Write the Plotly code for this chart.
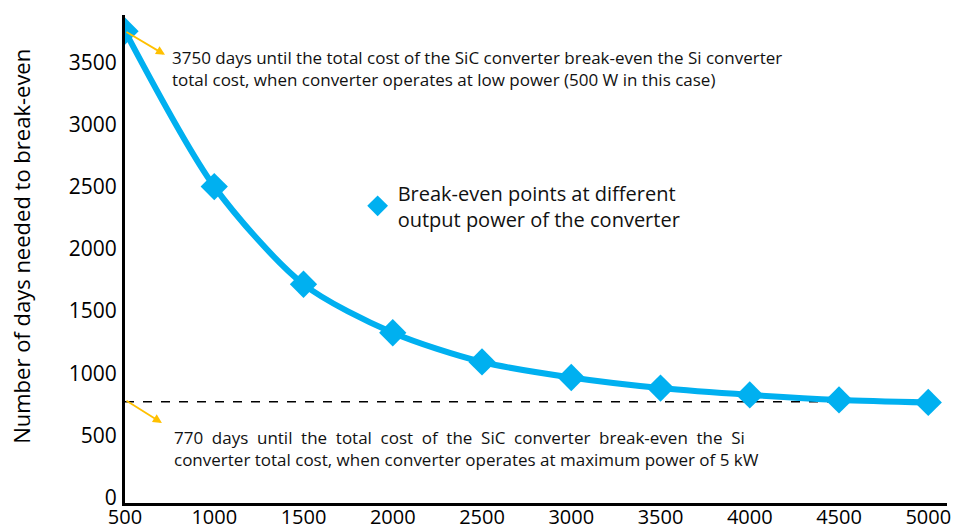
import plotly.graph_objects as go

power_w = [500, 1000, 1500, 2000, 2500, 3000, 3500, 4000, 4500, 5000]
days_to_break_even = [3750, 2500, 1715, 1325, 1090, 965, 880, 825, 785, 765]
max_power_days = 770
x_tick_vals = [500, 1000, 1500, 2000, 2500, 3000, 3500, 4000, 4500, 5000]
y_tick_vals = [0, 500, 1000, 1500, 2000, 2500, 3000, 3500]

BLUE = "#00B0F0"
ORANGE = "#FFC000"
FONT = "Open Sans"
SP = " \u2005"

fig = go.Figure()

fig.add_trace(go.Scatter(
    x=[power_w[0], power_w[-1]], y=[max_power_days, max_power_days],
    mode="lines", line=dict(color="black", width=1.5, dash="dash"),
    showlegend=False, hoverinfo="skip"))

fig.add_trace(go.Scatter(
    x=power_w, y=days_to_break_even, mode="lines+markers",
    line=dict(color=BLUE, width=6, shape="spline", smoothing=0.8),
    marker=dict(symbol="diamond", size=21, color=BLUE),
    showlegend=False))

fig.add_trace(go.Scatter(
    x=[None], y=[None], mode="markers",
    marker=dict(symbol="diamond", size=19, color=BLUE),
    name="Break-even points at different<br>output power of the converter"))

# arrows
fig.add_annotation(x=724, y=3560, ax=power_w[0], ay=days_to_break_even[0],
                   xref="x", yref="y", axref="x", ayref="y", text="",
                   showarrow=True, arrowhead=2, arrowsize=1, arrowwidth=1.8,
                   arrowcolor=ORANGE)
fig.add_annotation(x=707, y=600, ax=power_w[0], ay=max_power_days + 15,
                   xref="x", yref="y", axref="x", ayref="y", text="",
                   showarrow=True, arrowhead=2, arrowsize=1, arrowwidth=1.8,
                   arrowcolor=ORANGE)

fig.add_annotation(
    x=752, y=3650, xref="x", yref="y", xanchor="left", yanchor="top",
    align="left", showarrow=False,
    text="3750 days until the total cost of the SiC converter break-even the Si converter<br>"
         "total cost, when converter operates at low power (500 W in this case)",
    font=dict(family=FONT, size=17, color="#111111"))

line1 = SP.join("770 days until the total cost of the SiC converter break-even the Si".split(" "))
fig.add_annotation(
    x=765, y=590, xref="x", yref="y", xanchor="left", yanchor="top",
    align="left", showarrow=False,
    text=line1 + "<br>converter total cost, when converter operates at maximum power of 5 kW",
    font=dict(family=FONT, size=17, color="#111111"))

# y-axis title
fig.add_annotation(
    x=-0.1265, y=0.525, xref="paper", yref="paper", textangle=-90,
    xanchor="center", yanchor="middle",
    showarrow=False, text="Number of days needed to break-even",
    font=dict(family=FONT, size=22, color="black"))

fig.update_layout(
    width=955, height=531,
    margin=dict(l=125, r=8, t=15, b=28),
    paper_bgcolor="white", plot_bgcolor="white",
    font=dict(family=FONT, size=21, color="black"),
    legend=dict(x=0.283, y=0.609, xanchor="left", yanchor="middle",
                bgcolor="rgba(0,0,0,0)", font=dict(family=FONT, size=20, color="#111111"),
                itemsizing="trace"),
    xaxis=dict(range=[500, 5105], tickvals=x_tick_vals, showgrid=False,
               zeroline=False, showline=True, linecolor="black", linewidth=3,
               ticks="", tickfont=dict(size=20), ticklabelstandoff=-6,
               automargin=False),
    yaxis=dict(range=[-44, 3880], tickvals=y_tick_vals, showgrid=False,
               zeroline=False, showline=True, linecolor="black", linewidth=3,
               ticks="", tickfont=dict(size=21), ticklabelstandoff=1,
               automargin=False),
)

fig.write_html("out.html", config={"displayModeBar": False},
               post_script="document.body.style.margin='0';document.body.style.overflow='hidden';")
